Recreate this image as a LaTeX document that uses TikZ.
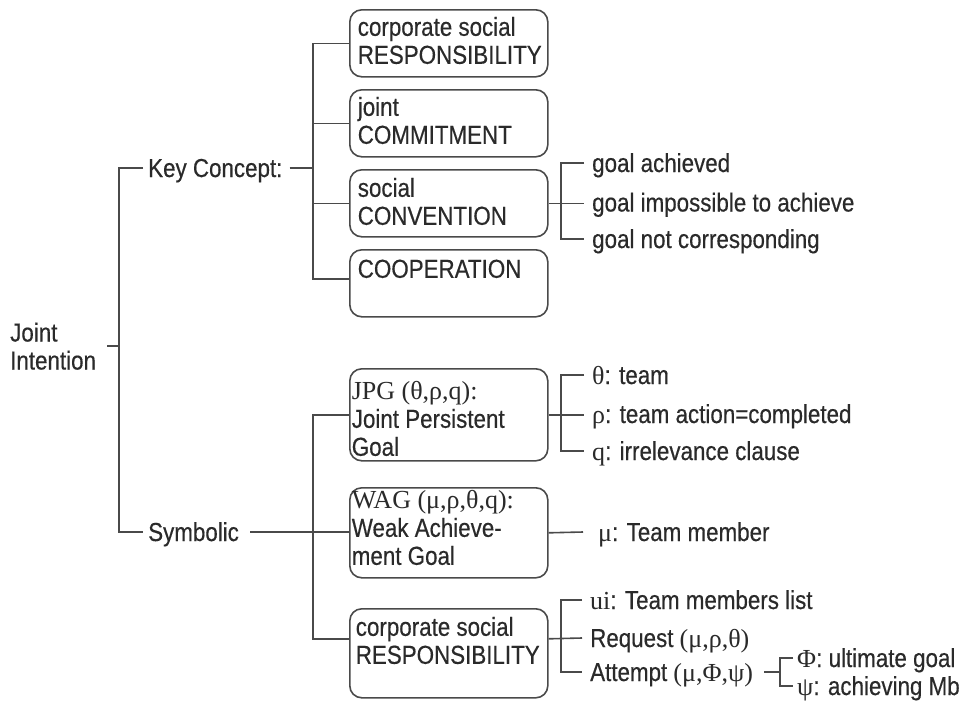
\documentclass[tikz,border=0pt]{standalone}
\usepackage{fontspec}
\setmainfont{Liberation Sans}[FakeStretch=0.86,FakeBold=0.4]
\newfontfamily\serif{Liberation Serif}[Scale=1.0]
\newcommand{\sg}[1]{{\serif #1}}
% box text: height, top gap, left indent, lines
\newcommand{\boxtxt}[4]{\parbox[c][#1pt][t]{198pt}{\raggedright\leftskip=#3pt\relax\vspace*{#2pt}\strut #4}}
\definecolor{ink}{HTML}{2A2A2A}
\definecolor{edge}{HTML}{4A4A4A}
\begin{document}
\begin{tikzpicture}[x=1pt,y=-1pt,
  every node/.style={font=\fontsize{26}{28}\selectfont, text=ink},
  lbl/.style={inner xsep=5pt, inner ysep=0pt, text height=19pt, text depth=1pt, anchor=west},
  leaf/.style={lbl, inner xsep=8pt},
  cbox/.style={draw=edge, line width=1.6pt, rounded corners=12pt, inner sep=0pt, anchor=north west},
  wire/.style={draw=edge, line width=1.6pt}]
\fill[white] (0,0) rectangle (976,702);
\useasboundingbox (0,0) rectangle (976,702);

% root and first level
\node[lbl, text height=47pt, text depth=0pt] (ji) at (5,346) {\parbox[b]{92pt}{Joint\\Intention}};
\node[lbl] (kc) at (143,168) {Key Concept:};
\node[lbl] (sym) at (143,532) {Symbolic};

% concept boxes
\node[cbox] (b1) at (349,9) {\boxtxt{67}{6.4}{8}{corporate social\\RESPONSIBILITY}};
\node[cbox] (b2) at (349,89) {\boxtxt{67}{6.4}{8}{joint\\COMMITMENT}};
\node[cbox] (b3) at (349,169) {\boxtxt{67}{7.4}{8}{social\\CONVENTION}};
\node[cbox] (b4) at (349,249) {\boxtxt{67}{8.4}{8}{COOPERATION}};

% symbolic boxes
\node[cbox] (jpg) at (349,368) {\boxtxt{92}{11.4}{2}{\sg{JPG (θ,ρ,q):}\\Joint Persistent\\Goal}};
\node[cbox] (wag) at (349,487) {\boxtxt{90}{1.4}{2}{\sg{WAG (μ,ρ,θ,q):}\\Weak Achieve-\\ment Goal}};
\node[cbox] (csr) at (349,608) {\boxtxt{89}{7.4}{6}{corporate social\\RESPONSIBILITY}};

% leaves
\node[leaf] (g1) at (584,163) {goal achieved};
\node[leaf] (g2) at (584,202.5) {goal impossible to achieve};
\node[leaf] (g3) at (584,239) {goal not corresponding};
\node[leaf] (t1) at (584,375) {\sg{θ}: team};
\node[leaf] (t2) at (584,414) {\sg{ρ}: team action=completed};
\node[leaf] (t3) at (584,451) {\sg{q}: irrelevance clause};
\node[leaf] (mu) at (590,532) {\sg{μ}: Team member};
\node[leaf] (c1) at (582,600) {\sg{ui}: Team members list};
\node[leaf] (c2) at (582,638) {Request \sg{(μ,ρ,θ)}};
\node[leaf] (c3) at (582,672) {Attempt \sg{(μ,Φ,ψ)}};
\node[leaf, inner xsep=4pt] (p1) at (793,658) {\sg{Φ}: ultimate goal};
\node[leaf, inner xsep=4pt] (p2) at (793,686) {\sg{ψ}: achieving Mb};

% root bracket
\coordinate (rbar) at ([xshift=-24pt]kc.west);
\draw[wire] (kc.west) -- ++(-24,0) |- (sym.west);
\draw[wire] (ji.east) -- (ji.east -| rbar);

% key concept bracket
\coordinate (kbar) at ([xshift=-36pt]b1.west);
\draw[wire] (b1.west) -- ++(-36,0) |- ([yshift=4.5pt]b4.west);
\draw[wire] (b2.west) -- (b2.west -| kbar);
\draw[wire] (b3.west) -- (b3.west -| kbar);
\draw[wire] ([xshift=2pt]kc.east) -- (kc.east -| kbar);

% social convention outcomes
\draw[wire] (b3.east) -- (b3.east -| g2.west);
\draw[wire] (g1.west) -- ++(-23,0) |- (g3.west);

% symbolic bracket
\draw[wire] (jpg.west) -- ++(-36,0) |- ([yshift=14.5pt]csr.west);
\draw[wire] ([xshift=6pt]sym.east) -- (sym.east -| wag.west);

% JPG parameters
\draw[wire] (jpg.east) -- (jpg.east -| t2.west);
\draw[wire] (t1.west) -- ++(-23,0) |- (t3.west);

% WAG parameter
\draw[wire] (wag.east) -- ([xshift=-7pt]mu.west);

% responsibility items
\draw[wire] ([yshift=14.5pt]csr.east) -- (c2.west);
\draw[wire] (c1.west) -- ++(-21,0) |- (c3.west);

% attempt arguments
\coordinate (abar) at ([xshift=-13pt]p1.west);
\draw[wire] ([xshift=3pt]c3.east) -- (c3.east -| abar);
\draw[wire] (p1.west) -- ++(-13,0) |- (p2.west);
\end{tikzpicture}
\end{document}
